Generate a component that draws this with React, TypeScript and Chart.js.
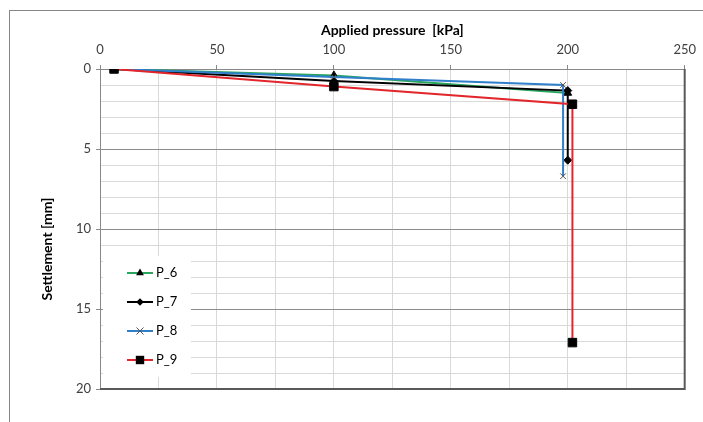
import React, { useEffect, useRef } from "react";
import { Chart, registerables } from "chart.js";

Chart.register(...registerables);

const seriesNames = ["P_6", "P_7", "P_8", "P_9"];
const p6Pressure = [6, 100, 200];
const p6Settlement = [0, 0.4, 1.5];
const p7Pressure = [6, 100, 200, 200];
const p7Settlement = [0, 0.75, 1.35, 5.7];
const p8Pressure = [6, 100, 198, 198];
const p8Settlement = [0, 0.5, 1.0, 6.7];
const p9Pressure = [6, 100, 202, 202];
const p9Settlement = [0, 1.1, 2.2, 17.1];

const xTitle = "Applied pressure  [kPa]";
const yTitle = "Settlement [mm]";

const lineColors = ["#2aa55e", "#000000", "#2f7fcb", "#e2262c"];
const markerStyles = ["triangle", "rectRot", "crossRot", "rect"];

const FONT = "Lato, 'Liberation Sans', sans-serif";

function pts(xs: number[], ys: number[]) {
  return xs.map((x, i) => ({ x, y: ys[i] }));
}

function drawMarker(ctx: CanvasRenderingContext2D, style: string, x: number, y: number) {
  ctx.save();
  ctx.fillStyle = "#000";
  ctx.strokeStyle = "#000";
  ctx.beginPath();
  if (style === "triangle") {
    const r = 4.5;
    ctx.moveTo(x, y - r);
    ctx.lineTo(x + r * 0.866, y + r * 0.5);
    ctx.lineTo(x - r * 0.866, y + r * 0.5);
    ctx.closePath();
    ctx.fill();
  } else if (style === "rectRot") {
    const r = 3.8;
    ctx.moveTo(x, y - r);
    ctx.lineTo(x + r, y);
    ctx.lineTo(x, y + r);
    ctx.lineTo(x - r, y);
    ctx.closePath();
    ctx.fill();
  } else if (style === "crossRot") {
    const r = 3.5;
    ctx.strokeStyle = "#555";
    ctx.lineWidth = 1;
    ctx.moveTo(x - r, y - r);
    ctx.lineTo(x + r, y + r);
    ctx.moveTo(x + r, y - r);
    ctx.lineTo(x - r, y + r);
    ctx.stroke();
  } else {
    const s = 4.2;
    ctx.rect(x - s, y - s, 2 * s, 2 * s);
    ctx.fill();
  }
  ctx.restore();
}

const framePlugin = {
  id: "frameAndLegend",
  beforeDatasetsDraw(chart: any) {
    const { ctx, chartArea } = chart;
    const { left, right, top, bottom } = chartArea;
    ctx.save();
    ctx.strokeStyle = "#595959";
    ctx.lineWidth = 2;
    ctx.beginPath();
    ctx.moveTo(left, bottom);
    ctx.lineTo(right, bottom);
    ctx.lineTo(right, top);
    ctx.stroke();

    // y axis title, centred like the original (slightly below the plot centre)
    ctx.save();
    ctx.translate(47, 249);
    ctx.rotate(-Math.PI / 2);
    ctx.fillStyle = "#000";
    ctx.font = `bold 14px ${FONT}`;
    ctx.textAlign = "center";
    ctx.textBaseline = "middle";
    ctx.fillText(yTitle, 0, 0);
    ctx.restore();

    // legend box inside plot area
    ctx.fillStyle = "#ffffff";
    ctx.fillRect(left + 3, 256, 88, 121);
    const datasets = chart.data.datasets;
    datasets.forEach((ds: any, i: number) => {
      const cy = 273 + i * 29;
      ctx.strokeStyle = ds.borderColor;
      ctx.lineWidth = 2;
      ctx.beginPath();
      ctx.moveTo(left + 27, cy);
      ctx.lineTo(left + 53, cy);
      ctx.stroke();
      drawMarker(ctx, ds.pointStyle, left + 40, cy);
      ctx.fillStyle = "#000";
      ctx.font = `13px ${FONT}`;
      ctx.textAlign = "left";
      ctx.textBaseline = "middle";
      ctx.fillText(ds.label, left + 56, cy);
    });
    ctx.restore();
  },
};

export default function App() {
  const canvasRef = useRef<HTMLCanvasElement | null>(null);

  useEffect(() => {
    if (!canvasRef.current) return;
    const allX = [p6Pressure, p7Pressure, p8Pressure, p9Pressure];
    const allY = [p6Settlement, p7Settlement, p8Settlement, p9Settlement];
    const radii = [4.5, 4, 4, 6];
    const datasets = seriesNames.map((name, i) => ({
      label: name,
      data: pts(allX[i], allY[i]),
      borderColor: lineColors[i],
      backgroundColor: lineColors[i],
      borderWidth: 2,
      pointStyle: markerStyles[i],
      pointRadius: radii[i],
      pointBackgroundColor: "#000",
      pointBorderColor: i === 2 ? "#555" : "#000",
      pointBorderWidth: 1,
      showLine: true,
      tension: 0,
      order: 4 - i,
    }));

    const chart = new Chart(canvasRef.current, {
      type: "scatter",
      data: { datasets: datasets as any },
      plugins: [framePlugin],
      options: {
        animation: false,
        responsive: true,
        maintainAspectRatio: false,
        layout: { padding: { left: 0, top: 0, right: 15, bottom: 33 } },
        plugins: {
          legend: { display: false },
          tooltip: { enabled: false },
        },
        scales: {
          x: {
            type: "linear",
            position: "top",
            min: 0,
            max: 250,
            afterFit: (scale: any) => {
              scale.height = 69;
            },
            ticks: {
              stepSize: 25,
              autoSkip: false,
              maxRotation: 0,
              padding: 7,
              color: "#404040",
              font: { family: FONT, size: 13 },
              callback: (v: any) => (Number(v) % 50 === 0 ? String(v) : ""),
            },
            grid: {
              color: "#d9d9d9",
              tickLength: 4,
              tickColor: (c: any) => (c.tick && c.tick.value % 50 === 0 ? "#888" : "rgba(0,0,0,0)"),
            },
            border: { color: "#888", width: 1 },
            title: {
              display: true,
              text: xTitle,
              color: "#000",
              font: { family: FONT, size: 14, weight: "bold" },
              padding: { top: 22, bottom: 0 },
            },
          },
          y: {
            type: "linear",
            reverse: true,
            min: 0,
            max: 20,
            afterFit: (scale: any) => {
              scale.width = 100;
            },
            ticks: {
              stepSize: 1,
              autoSkip: false,
              padding: 5,
              color: "#404040",
              font: { family: FONT, size: 13 },
              callback: (v: any) => (Number(v) % 5 === 0 ? String(v) : ""),
            },
            grid: {
              color: (c: any) => (c.tick && c.tick.value % 5 === 0 ? "#8c8c8c" : "#d9d9d9"),
              tickLength: 4,
              tickColor: (c: any) => (c.tick && c.tick.value % 5 === 0 ? "#888" : "rgba(0,0,0,0)"),
            },
            border: { color: "#888", width: 1 },
            title: { display: false },
          },
        },
      },
    });
    return () => chart.destroy();
  }, []);

  return (
    <div style={{ position: "absolute", left: 0, top: 0, width: 703, height: 422, background: "#fff" }}>
      <div
        style={{
          position: "absolute",
          left: 9,
          top: 10,
          width: 694,
          height: 412,
          borderTop: "1px solid #868686",
          borderLeft: "1px solid #868686",
          boxSizing: "border-box",
        }}
      />
      <canvas ref={canvasRef} style={{ position: "absolute", left: 0, top: 0 }} />
    </div>
  );
}
